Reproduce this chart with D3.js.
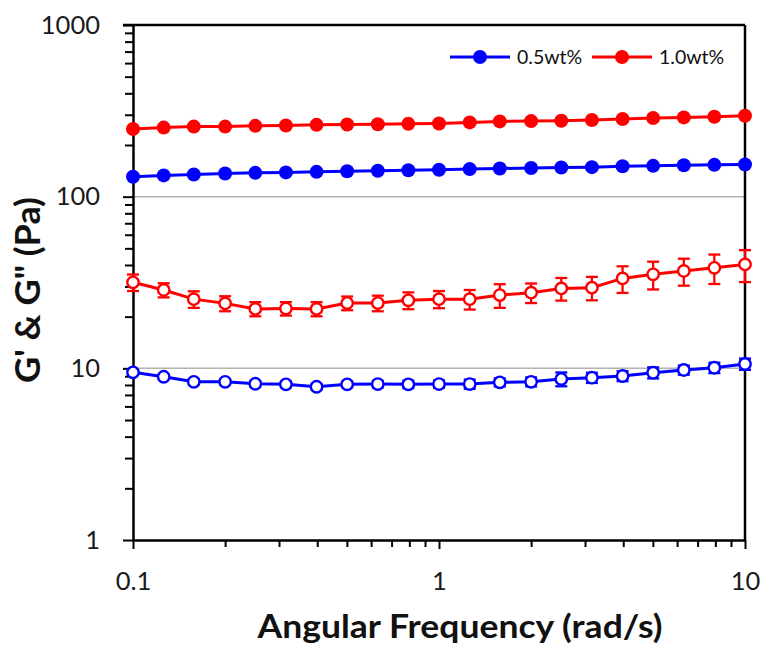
<!DOCTYPE html>
<html>
<head>
<meta charset="utf-8">
<script src="https://cdn.jsdelivr.net/npm/d3@7"></script>
<style>
  html, body { margin: 0; padding: 0; background: #fff; }
  svg { display: block; }
</style>
</head>
<body>
<svg id="chart" width="764" height="646"></svg>
<script>
// ---- data ----
const freq = [0.1, 0.126, 0.158, 0.2, 0.251, 0.316, 0.398, 0.501, 0.631, 0.794, 1, 1.26, 1.58, 2, 2.51, 3.16, 3.98, 5.01, 6.31, 7.94, 10];
const gPrime05 = [130.6, 133, 134.5, 136.4, 137.6, 138.5, 139.5, 140.5, 141.5, 142.5, 143.4, 144.7, 145.8, 146.9, 148, 148.6, 150.5, 151.2, 152.5, 153.2, 154];
const gPrime10 = [248, 252.6, 256, 256, 258.5, 260, 262, 263, 264, 265.5, 267, 270.8, 274.4, 275.6, 276.8, 279.5, 283.2, 287, 289.6, 292, 296];
const gDouble05 = [9.48, 8.93, 8.35, 8.35, 8.13, 8.07, 7.81, 8.07, 8.1, 8.07, 8.1, 8.1, 8.29, 8.35, 8.66, 8.82, 9.02, 9.43, 9.78, 10.08, 10.6];
const gDouble05Err = [0.3, 0.3, 0.3, 0.3, 0.3, 0.3, 0.3, 0.3, 0.35, 0.4, 0.4, 0.5, 0.45, 0.5, 0.8, 0.6, 0.6, 0.7, 0.6, 0.7, 0.8];
const gDouble10 = [31.7, 28.6, 25.3, 23.9, 22.2, 22.3, 22.2, 24.0, 24.0, 24.9, 25.3, 25.3, 26.7, 27.6, 29.2, 29.5, 33.4, 35.3, 36.9, 38.5, 40.3];
const gDouble10Err = [3.5, 2.7, 2.8, 2.4, 2.1, 2.0, 2.1, 2.2, 2.5, 2.8, 2.9, 3.3, 4.2, 3.6, 4.4, 4.6, 5.9, 6.5, 6.6, 7.5, 8.5];
const seriesNames = ["0.5wt%", "1.0wt%"];
const xMajorTicks = [0.1, 1, 10];
const xTickLabels = ["0.1", "1", "10"];
const yMajorTicks = [1, 10, 100, 1000];
const yTickLabels = ["1", "10", "100", "1000"];
const xTitle = "Angular Frequency (rad/s)";
const yTitle = "G' & G\" (Pa)";

// ---- layout ----
const L = 133, R = 745, T = 25, B = 540;
const BLUE = "#0000ff", RED = "#ff0000";
const FONT = "Lato, 'Open Sans', sans-serif";

const svg = d3.select("#chart");
const x = d3.scaleLog().domain([0.1, 10]).range([L, R]);
const y = d3.scaleLog().domain([1, 1000]).range([B, T]);

// minor tick values
const xMinor = [];
[0.1, 1].forEach(d => { for (let k = 2; k <= 9; k++) xMinor.push(d * k); });
const yMinor = [];
[1, 10, 100].forEach(d => { for (let k = 2; k <= 9; k++) yMinor.push(d * k); });

// gridlines at 10 and 100
svg.append("g").selectAll("line").data([10, 100]).join("line")
  .attr("x1", L).attr("x2", R)
  .attr("y1", d => y(d)).attr("y2", d => y(d))
  .attr("stroke", "#b4b4b4").attr("stroke-width", 1.5);

// frame (top & right)
svg.append("line").attr("x1", L - 10).attr("x2", R).attr("y1", T).attr("y2", T)
  .attr("stroke", "#000").attr("stroke-width", 2.5);
svg.append("line").attr("x1", R).attr("x2", R).attr("y1", T).attr("y2", B)
  .attr("stroke", "#000").attr("stroke-width", 2.5);

function styleAxis(g) {
  g.select(".domain").attr("stroke", "#000").attr("stroke-width", 2.5);
  g.selectAll(".tick line").attr("stroke", "#000").attr("stroke-width", 2);
  g.selectAll("text").attr("font-family", FONT).attr("font-size", 25.5).attr("fill", "#1a1a1a");
}

// y minor
svg.append("g").attr("transform", `translate(${L},0)`)
  .call(d3.axisLeft(y).tickValues(yMinor).tickSize(8).tickFormat(""))
  .call(g => { styleAxis(g); g.select(".domain").remove(); });
// y major
svg.append("g").attr("transform", `translate(${L},0)`)
  .call(d3.axisLeft(y).tickValues(yMajorTicks).tickSize(10).tickSizeOuter(0).tickPadding(23)
    .tickFormat((d, i) => yTickLabels[i]))
  .call(styleAxis);
// x minor
svg.append("g").attr("transform", `translate(0,${B})`)
  .call(d3.axisBottom(x).tickValues(xMinor).tickSize(7).tickFormat(""))
  .call(g => { styleAxis(g); g.select(".domain").remove(); });
// x major
svg.append("g").attr("transform", `translate(0,${B})`)
  .call(d3.axisBottom(x).tickValues(xMajorTicks).tickSize(9).tickSizeOuter(0).tickPadding(23)
    .tickFormat((d, i) => xTickLabels[i]))
  .call(styleAxis);

// titles
svg.append("text").attr("x", 460).attr("y", 638).attr("text-anchor", "middle")
  .attr("font-family", FONT).attr("font-weight", "bold").attr("font-size", 32)
  .attr("textLength", 405).attr("lengthAdjust", "spacingAndGlyphs")
  .attr("fill", "#111").text(xTitle);
svg.append("text").attr("transform", "translate(40,290) rotate(-90)").attr("text-anchor", "middle")
  .attr("font-family", FONT).attr("font-weight", "bold").attr("font-size", 34)
  .attr("textLength", 186).attr("lengthAdjust", "spacingAndGlyphs")
  .attr("fill", "#111").text(yTitle);

const line = d3.line().x(d => x(d[0])).y(d => y(d[1]));

function drawSeries(vals, errs, color, filled) {
  const pts = freq.map((f, i) => [f, vals[i], errs ? errs[i] : 0]);
  const g = svg.append("g");
  g.append("path").datum(pts).attr("d", line)
    .attr("fill", "none").attr("stroke", color).attr("stroke-width", 3);
  if (errs) {
    const eb = g.append("g").selectAll("g").data(pts).join("g")
      .attr("stroke", color).attr("stroke-width", 2.3);
    eb.append("line").attr("x1", d => x(d[0])).attr("x2", d => x(d[0]))
      .attr("y1", d => y(d[1] + d[2])).attr("y2", d => y(d[1] - d[2]));
    eb.append("line").attr("x1", d => x(d[0]) - 6).attr("x2", d => x(d[0]) + 6)
      .attr("y1", d => y(d[1] + d[2])).attr("y2", d => y(d[1] + d[2]));
    eb.append("line").attr("x1", d => x(d[0]) - 6).attr("x2", d => x(d[0]) + 6)
      .attr("y1", d => y(d[1] - d[2])).attr("y2", d => y(d[1] - d[2]));
  }
  g.append("g").selectAll("circle").data(pts).join("circle")
    .attr("cx", d => x(d[0])).attr("cy", d => y(d[1]))
    .attr("r", filled ? 7 : 5.7)
    .attr("fill", filled ? color : "#fff")
    .attr("stroke", color).attr("stroke-width", filled ? 0 : 2.4);
}

drawSeries(gDouble05, gDouble05Err, BLUE, false);
drawSeries(gDouble10, gDouble10Err, RED, false);
drawSeries(gPrime05, null, BLUE, true);
drawSeries(gPrime10, null, RED, true);

// legend
const legend = svg.append("g");
const legItems = [
  { name: seriesNames[0], color: BLUE, x0: 450 },
  { name: seriesNames[1], color: RED, x0: 592 }
];
const ly = 57;
legItems.forEach(it => {
  legend.append("line").attr("x1", it.x0).attr("x2", it.x0 + 60).attr("y1", ly).attr("y2", ly)
    .attr("stroke", it.color).attr("stroke-width", 3);
  legend.append("circle").attr("cx", it.x0 + 30).attr("cy", ly).attr("r", 7).attr("fill", it.color);
  legend.append("text").attr("x", it.x0 + 67).attr("y", ly + 7)
    .attr("font-family", FONT).attr("font-size", 19.5).attr("fill", "#111").text(it.name);
});
</script>
</body>
</html>
